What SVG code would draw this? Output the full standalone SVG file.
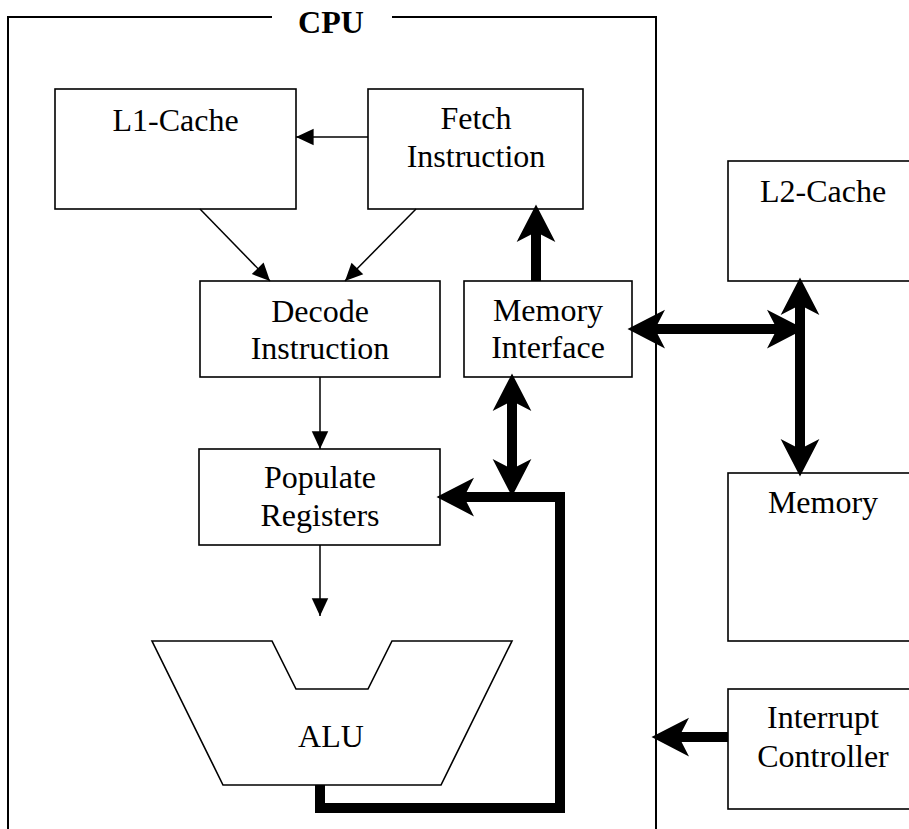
<svg xmlns="http://www.w3.org/2000/svg" width="909" height="829" viewBox="0 0 909 829">
<style>
  text { font-family: "Liberation Serif", "Times New Roman", serif; font-size: 32px; fill: #000; text-anchor: middle; }
  .box { fill: #fff; stroke: #000; stroke-width: 1.6; }
  .frame { fill: none; stroke: #000; stroke-width: 2; }
  .thin { fill: none; stroke: #000; stroke-width: 1.5; marker-end: url(#thinHead); }
  .thick { fill: none; stroke: #000; stroke-width: 10; stroke-linejoin: miter; stroke-linecap: butt; }
  .end { marker-end: url(#thickHead); }
  .both { marker-start: url(#thickHead); marker-end: url(#thickHead); }
</style>
<defs>
  <marker id="thinHead" markerUnits="userSpaceOnUse" orient="auto" refX="0" refY="0" markerWidth="20" markerHeight="20" viewBox="-16 -8 17 16" overflow="visible">
    <path d="M0,0 L-15,-7 L-15,7 Z" fill="#000"/>
  </marker>
  <marker id="thickHead" markerUnits="userSpaceOnUse" orient="auto-start-reverse" refX="0" refY="0" markerWidth="40" markerHeight="40" viewBox="-13 -16 32 32" overflow="visible">
    <path d="M18,0 L-12,-15.5 L-4,0 L-12,15.5 Z" fill="#000"/>
  </marker>
</defs>
<rect width="909" height="829" fill="#fff"/>

<g id="cpu">
  <path class="frame" d="M272,17 H8 V829"/>
  <path class="frame" d="M392,17 H656 V829"/>
  <text x="331" y="33" font-weight="bold">CPU</text>
</g>

<g id="l1-cache">
  <rect class="box" x="55" y="89" width="241" height="120"/>
  <text x="175.5" y="131">L1-Cache</text>
</g>

<g id="fetch">
  <rect class="box" x="368" y="89" width="215" height="120"/>
  <text x="476" y="129">Fetch</text>
  <text x="476" y="167">Instruction</text>
</g>

<g id="decode">
  <rect class="box" x="200" y="281" width="240" height="96"/>
  <text x="320" y="322">Decode</text>
  <text x="320" y="359">Instruction</text>
</g>

<g id="memory-interface">
  <rect class="box" x="464" y="281" width="168" height="96"/>
  <text x="548" y="321">Memory</text>
  <text x="548" y="358">Interface</text>
</g>

<g id="l2-cache">
  <rect class="box" x="728" y="161" width="192" height="120"/>
  <text x="823" y="202">L2-Cache</text>
</g>

<g id="memory">
  <rect class="box" x="728" y="473" width="192" height="168"/>
  <text x="823" y="513">Memory</text>
</g>

<g id="populate">
  <rect class="box" x="199" y="449" width="241" height="96"/>
  <text x="320" y="488">Populate</text>
  <text x="320" y="526">Registers</text>
</g>

<g id="alu">
  <polygon class="box" points="152,641 272,641 296,689 368,689 392,641 512,641 441,785 223,785"/>
  <text x="331" y="747" font-size="25">ALU</text>
</g>

<g id="interrupt">
  <rect class="box" x="728" y="689" width="192" height="120"/>
  <text x="823" y="728">Interrupt</text>
  <text x="823" y="767">Controller</text>
</g>

<g id="connectors">
  <line class="thin" x1="368" y1="137" x2="296" y2="137"/>
  <line class="thin" x1="200" y1="209" x2="270" y2="281"/>
  <line class="thin" x1="416" y1="209" x2="345" y2="281"/>
  <line class="thin" x1="320" y1="377" x2="320" y2="449"/>
  <line class="thin" x1="320" y1="545" x2="320" y2="616"/>
  <path class="thick end" d="M536,281 V227"/>
  <path class="thick both" d="M650,329 H782"/>
  <path class="thick both" d="M800,300 V454"/>
  <path class="thick both" d="M512,396 V474"/>
  <path class="thick end" d="M320,785 V808 H560 V497 H459"/>
  <path class="thick end" d="M728,737 H674"/>
</g>
</svg>
